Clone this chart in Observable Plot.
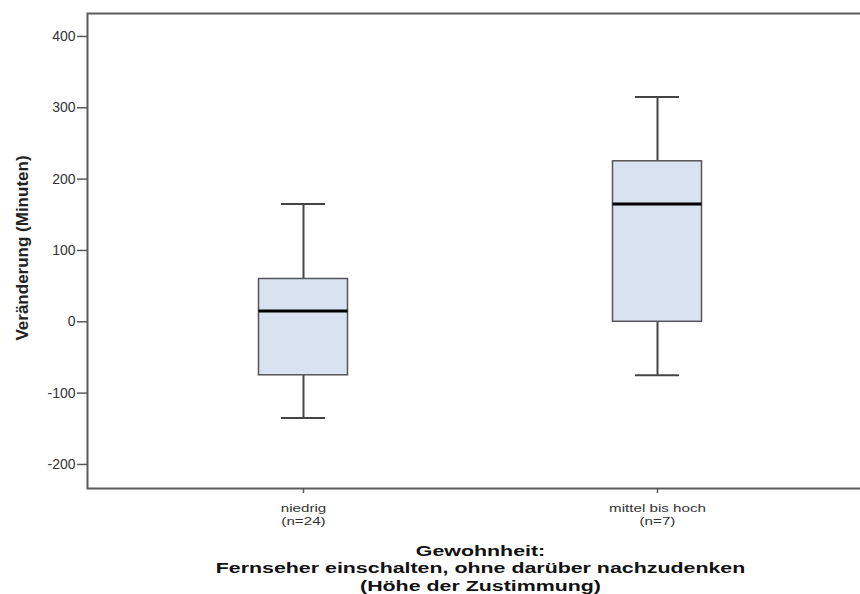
<!DOCTYPE html>
<html>
<head>
<meta charset="utf-8">
<script src="https://cdn.jsdelivr.net/npm/d3@7"></script>
<script src="https://cdn.jsdelivr.net/npm/@observablehq/plot@0.6"></script>
<style>
  html, body { margin: 0; padding: 0; background: #fff; }
</style>
</head>
<body>
<div id="chart"></div>
<script>
const categories = ["niedrig", "mittel bis hoch"];
const nLabels = ["(n=24)", "(n=7)"];
const whiskerLow = [-135, -75];
const q1 = [-75, 0];
const median = [15, 165];
const q3 = [60, 225];
const whiskerHigh = [165, 315];
const yTicks = [-200, -100, 0, 100, 200, 300, 400];
const yLabel = "Veränderung (Minuten)";
const xTitle = "Gewohnheit:\nFernseher einschalten, ohne darüber nachzudenken\n(Höhe der Zustimmung)";

const data = categories.map((c, i) => ({
  cat: c, n: nLabels[i], lo: whiskerLow[i], q1: q1[i], med: median[i], q3: q3[i], hi: whiskerHigh[i]
}));
const nOf = Object.fromEntries(categories.map((c, i) => [c, nLabels[i]]));

const axisColor = "#5a5a5a";
const boxStroke = "#555555";
const fontArial = "Liberation Sans, Arial, sans-serif";

const chart = Plot.plot({
  width: 860,
  height: 594,
  marginLeft: 87,
  marginRight: 0,
  marginTop: 13,
  marginBottom: 106,
  style: { background: "#fff", color: "#333" },
  x: { type: "band", domain: categories, range: [126, 834], padding: 0 },
  y: { domain: [-233.7, 432.2] },
  marks: [
    Plot.frame({ stroke: axisColor, strokeWidth: 2, insetRight: -10 }),
    Plot.axisY(yTicks, {
      tickSize: 10, tickPadding: 2, stroke: axisColor, strokeWidth: 1.5,
      fontSize: 14, fontFamily: fontArial, fill: "#333", label: null,
      tickFormat: d => String(d)
    }),
    Plot.axisX({
      tickSize: 5, tickPadding: 10, stroke: axisColor, strokeWidth: 1.5, className: "xaxis",
      fontSize: 11, fontFamily: fontArial, fill: "#333", lineHeight: 1.13,
      tickFormat: d => d + "\n" + nOf[d], label: null
    }),
    // whiskers
    Plot.ruleX(data, { x: "cat", y1: "lo", y2: "q1", stroke: "#444", strokeWidth: 2 }),
    Plot.ruleX(data, { x: "cat", y1: "q3", y2: "hi", stroke: "#444", strokeWidth: 2 }),
    Plot.tickY(data, { x: "cat", y: "lo", insetLeft: 155, insetRight: 155, stroke: "#444", strokeWidth: 2 }),
    Plot.tickY(data, { x: "cat", y: "hi", insetLeft: 155, insetRight: 155, stroke: "#444", strokeWidth: 2 }),
    // boxes
    Plot.barY(data, { x: "cat", y1: "q1", y2: "q3", insetLeft: 132.5, insetRight: 132.5, fill: "#d9e2f1", stroke: boxStroke, strokeWidth: 1.5 }),
    // median
    Plot.tickY(data, { x: "cat", y: "med", insetLeft: 132.5, insetRight: 132.5, stroke: "#000", strokeWidth: 3 }),
    // y label
    Plot.text([yLabel], {
      frameAnchor: "left", textAnchor: "middle", rotate: -90, dx: -65, dy: -3, text: d => d,
      fontSize: 17, fontWeight: "bold", fontFamily: fontArial, fill: "#222"
    }),
    // x title
    Plot.text([xTitle], {
      frameAnchor: "bottom", lineAnchor: "top", dx: 6.5, dy: 55, text: d => d, lineHeight: 1.13,
      className: "xtitle",
      fontSize: 15.5, fontWeight: "bold", fontFamily: fontArial, fill: "#111", textAnchor: "middle"
    })
  ]
});
document.getElementById("chart").appendChild(chart);

// The reference's text is horizontally stretched; widen labels around their own anchor.
function stretch(selector, sx) {
  chart.querySelectorAll(selector).forEach(t => {
    const tr = t.getAttribute("transform") || "";
    t.setAttribute("transform", tr + ` scale(${sx},1)`);
  });
}
stretch(".xtitle text", 1.38);
stretch(".xaxis text", 1.38);
</script>
</body>
</html>
